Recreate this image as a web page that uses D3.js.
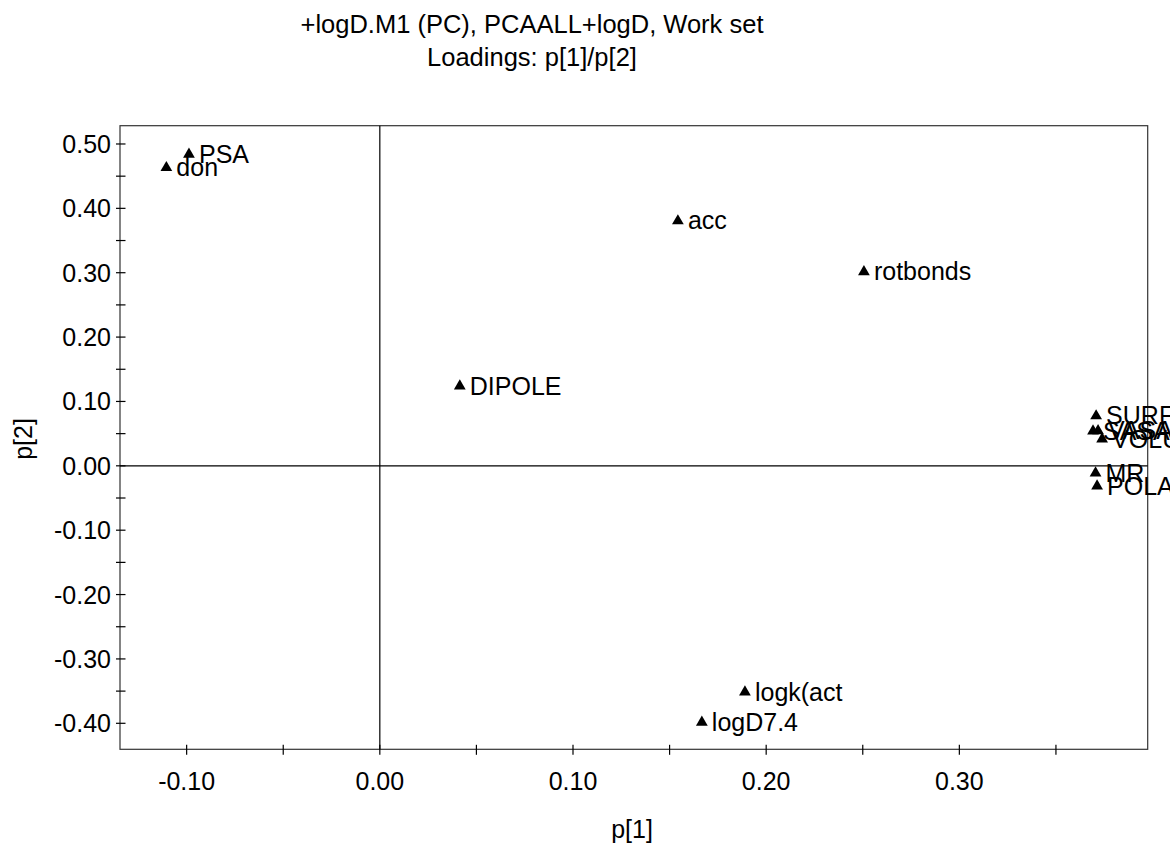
<!DOCTYPE html>
<html><head><meta charset="utf-8">
<script src="https://cdn.jsdelivr.net/npm/d3@7"></script>
<style>html,body{margin:0;padding:0;background:#fff}svg{display:block}text{font-family:"Liberation Sans",Arial,sans-serif;fill:#000}</style>
</head><body>
<script>
const labels = ["PSA","don","acc","rotbonds","DIPOLE","SURFACE","SASA","VASA","VOLUME","MR","POLAR","logk(act","logD7.4"];
const p1 = [-0.0988,-0.1105,0.1543,0.2506,0.0414,0.3708,0.3692,0.3718,0.3739,0.3705,0.3713,0.1890,0.1667];
const p2 = [0.4855,0.4647,0.3820,0.3030,0.1255,0.0790,0.0556,0.0560,0.0430,-0.0096,-0.0298,-0.3500,-0.3970];
const xTicks = [-0.10,0.00,0.10,0.20,0.30];
const xMinor = [-0.05,0.05,0.15,0.25,0.35];
const yTicks = [0.50,0.40,0.30,0.20,0.10,0.00,-0.10,-0.20,-0.30,-0.40];
const yMinor = [0.45,0.35,0.25,0.15,0.05,-0.05,-0.15,-0.25,-0.35];
const titleLines = ["+logD.M1 (PC), PCAALL+logD, Work set","Loadings: p[1]/p[2]"];
const xTitle = "p[1]", yTitle = "p[2]";

const W=1170,H=847;
const L=120,R=1147.7,T=125.7,B=749.3;
const svg=d3.select("body").append("svg").attr("width",W).attr("height",H);
const x=d3.scaleLinear().domain([-0.1345,0.3975]).range([L,R]);
const y=d3.scaleLinear().domain([-0.4404,0.5284]).range([B,T]);
const fmt=v=>d3.format(".2f")(v).replace("\u2212","-");
const fs=25;

// titles
svg.selectAll("text.title").data(titleLines).join("text").attr("class","title")
  .attr("x",532).attr("y",(d,i)=>33+i*33).attr("text-anchor","middle").attr("font-size",25.5).text(d=>d);

// frame
svg.append("rect").attr("x",L).attr("y",T).attr("width",R-L).attr("height",B-T)
  .attr("fill","none").attr("stroke","#333").attr("stroke-width",1.2);

// zero lines
svg.append("line").attr("x1",x(0)).attr("x2",x(0)).attr("y1",T).attr("y2",B).attr("stroke","#000").attr("stroke-width",1.2);
svg.append("line").attr("x1",L).attr("x2",R).attr("y1",y(0)).attr("y2",y(0)).attr("stroke","#000").attr("stroke-width",1.2);

// x axis ticks
const gx=svg.append("g");
gx.selectAll("line.t").data(xTicks.concat(xMinor)).join("line")
  .attr("x1",d=>x(d)).attr("x2",d=>x(d)).attr("y1",B-4.5).attr("y2",B+5.5).attr("stroke","#000").attr("stroke-width",1.2);
gx.selectAll("text").data(xTicks).join("text").attr("x",d=>x(d)).attr("y",790)
  .attr("text-anchor","middle").attr("font-size",fs).text(d=>fmt(d));
// y axis ticks
const gy=svg.append("g");
gy.selectAll("line.t").data(yTicks.concat(yMinor)).join("line")
  .attr("x1",L-4).attr("x2",L+5.5).attr("y1",d=>y(d)).attr("y2",d=>y(d)).attr("stroke","#000").attr("stroke-width",1.2);
gy.selectAll("text").data(yTicks).join("text").attr("x",111).attr("y",d=>y(d)+9)
  .attr("text-anchor","end").attr("font-size",fs).text(d=>fmt(d));

// axis titles
svg.append("text").attr("x",632).attr("y",838).attr("text-anchor","middle").attr("font-size",fs).text(xTitle);
svg.append("text").attr("transform","translate(32,439) rotate(-90)").attr("text-anchor","middle").attr("font-size",fs).text(yTitle);

// points
const data=labels.map((l,i)=>({l,a:p1[i],b:p2[i]}));
const tri=d3.symbol().type(d3.symbolTriangle).size(60);
const gp=svg.append("g");
gp.selectAll("path").data(data).join("path").attr("d",tri)
  .attr("transform",d=>`translate(${x(d.a)},${y(d.b)+1})`).attr("fill","#000");
gp.selectAll("text").data(data).join("text").attr("x",d=>x(d.a)+10).attr("y",d=>y(d.b)+9.5)
  .attr("font-size",fs).text(d=>d.l);
</script>
</body></html>
